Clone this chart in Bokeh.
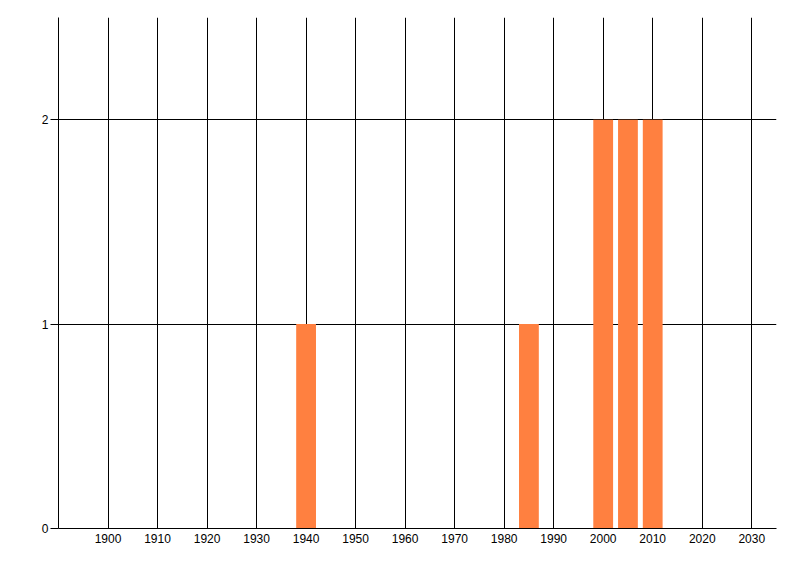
from bokeh.plotting import figure
from bokeh.models import FixedTicker, Range1d, ColumnDataSource
from bokeh.embed import file_html
from bokeh.resources import INLINE

years = [1940, 1985, 2000, 2005, 2010]
counts = [1, 1, 2, 2, 2]
x_ticks = list(range(1900, 2031, 10))
y_ticks = [0, 1, 2]

src = ColumnDataSource(dict(x=years, top=counts))

p = figure(width=784, height=560, output_backend="svg", toolbar_location=None,
           x_range=Range1d(1890, 2035), y_range=Range1d(0, 2.5),
           min_border_left=58, min_border_right=8, min_border_top=17, min_border_bottom=32)
p.outline_line_color = None
p.vbar(x="x", top="top", bottom=0, width=4, source=src, fill_color="#FF8040", line_color=None)

p.xaxis.ticker = FixedTicker(ticks=x_ticks)
p.yaxis.ticker = FixedTicker(ticks=y_ticks)
p.xaxis.minor_tick_line_color = None
p.yaxis.minor_tick_line_color = None
p.xaxis.major_tick_out = 0
p.xaxis.major_tick_in = 0
p.yaxis.major_tick_out = 8
p.yaxis.major_tick_in = 0
p.xaxis.major_label_standoff = 5
p.yaxis.major_label_standoff = 2
for ax in (p.xaxis, p.yaxis):
    ax.axis_line_color = "black"
    ax.major_tick_line_color = "black"
    ax.major_label_text_font = "Liberation Sans"
    ax.major_label_text_font_size = "12px"
    ax.major_label_text_color = "black"
p.xgrid.grid_line_color = "black"
p.ygrid.grid_line_color = "black"
p.xgrid.grid_line_alpha = 1
p.ygrid.grid_line_alpha = 1

open("out.html", "w").write(file_html(p, INLINE))
